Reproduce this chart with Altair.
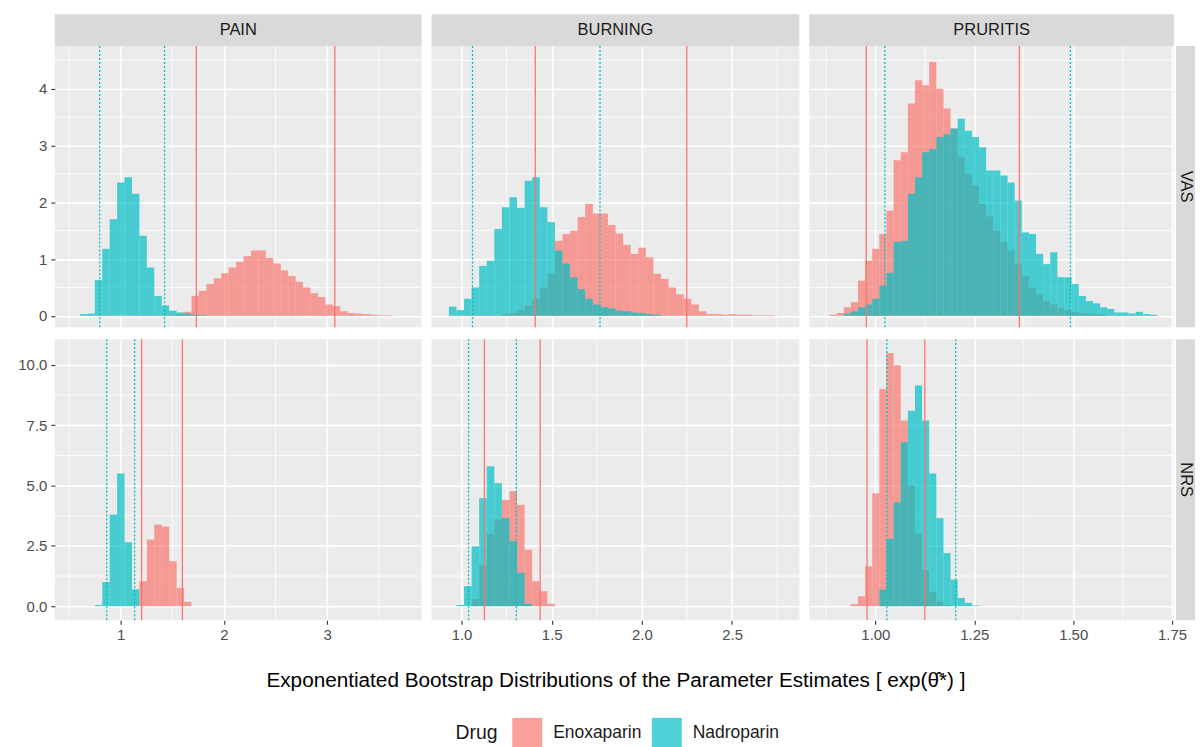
import altair as alt
import pandas as pd

# ---------------- categories ----------------
SYMPTOMS = ["PAIN", "BURNING", "PRURITIS"]
SCALES = ["VAS", "NRS"]
DRUGS = ["Enoxaparin", "Nadroparin"]
DRUG_COLORS = ["#F8766D", "#00BFC4"]

X_TITLE = "Exponentiated Bootstrap Distributions of the Parameter Estimates [ exp(\u03b8\u0302*) ]"

# histogram bin width per symptom (x scale is shared within a column)
BIN_WIDTH = {"PAIN": 0.072, "BURNING": 0.042, "PRURITIS": 0.018}

# ---------------- histogram densities (first bin edge, bar heights) ----------------
PAIN_VAS_ENOX_START = 1.47
PAIN_VAS_ENOX = [0.01, 0.03, 0.07, 0.35, 0.44, 0.56, 0.66, 0.75, 0.85, 0.95, 1.05, 1.15, 1.15,
                 1.02, 0.92, 0.80, 0.70, 0.60, 0.50, 0.40, 0.33, 0.20, 0.17, 0.08, 0.05, 0.04,
                 0.03, 0.02, 0.01, 0.01]
PAIN_VAS_NADRO_START = 0.606
PAIN_VAS_NADRO = [0.03, 0.04, 0.63, 1.18, 1.70, 2.35, 2.44, 2.15, 1.41, 0.85, 0.35, 0.18, 0.09,
                  0.06, 0.04, 0.02, 0.01]
PAIN_NRS_ENOX_START = 1.182
PAIN_NRS_ENOX = [1.03, 2.76, 3.38, 3.30, 1.86, 0.76, 0.18]
PAIN_NRS_NADRO_START = 0.75
PAIN_NRS_NADRO = [0.05, 1.00, 3.80, 5.50, 2.65, 0.70]

BURN_VAS_ENOX_START = 1.224
BURN_VAS_ENOX = [0.03, 0.05, 0.10, 0.18, 0.30, 0.50, 0.75, 1.32, 1.44, 1.50, 1.74, 1.97, 1.80,
                 1.80, 1.60, 1.45, 1.25, 1.09, 1.20, 1.03, 0.74, 0.65, 0.50, 0.38, 0.30, 0.20,
                 0.08, 0.03, 0.03, 0.02, 0.03, 0.02, 0.02, 0.01, 0.01, 0.01]
BURN_VAS_NADRO_START = 0.93
BURN_VAS_NADRO = [0.16, 0.10, 0.30, 0.50, 0.88, 0.97, 1.53, 1.91, 2.09, 1.90, 2.38, 2.44, 1.91,
                  1.65, 1.15, 0.92, 0.68, 0.47, 0.30, 0.20, 0.15, 0.13, 0.09, 0.08, 0.06, 0.05,
                  0.03, 0.02]
BURN_NRS_ENOX_START = 1.056
BURN_NRS_ENOX = [0.30, 1.70, 3.00, 3.60, 4.40, 4.76, 4.20, 2.34, 1.03, 0.62, 0.10]
BURN_NRS_NADRO_START = 0.972
BURN_NRS_NADRO = [0.05, 0.83, 2.48, 4.48, 5.80, 5.10, 3.66, 2.70, 1.38, 0.10]

PRUR_VAS_ENOX_START = 0.8841
PRUR_VAS_ENOX = [0.02, 0.05, 0.15, 0.24, 0.62, 0.97, 1.18, 1.44, 1.85, 2.74, 2.88, 3.74, 4.15,
                 4.06, 4.47, 4.00, 3.65, 3.30, 2.80, 2.50, 2.30, 1.97, 1.75, 1.50, 1.30, 1.15,
                 0.92, 0.70, 0.50, 0.38, 0.26, 0.20, 0.13, 0.10, 0.07, 0.05, 0.04, 0.03, 0.02]
PRUR_VAS_NADRO_START = 0.9201
PRUR_VAS_NADRO = [0.04, 0.08, 0.15, 0.20, 0.30, 0.53, 0.76, 1.30, 1.32, 2.15, 2.44, 2.88, 2.94,
                  3.15, 3.20, 3.30, 3.47, 3.26, 3.15, 2.97, 2.56, 2.56, 2.47, 2.35, 2.03, 1.47,
                  1.44, 1.09, 0.91, 1.12, 0.68, 0.68, 0.56, 0.35, 0.26, 0.22, 0.15, 0.12, 0.06,
                  0.06, 0.04, 0.07, 0.03, 0.02]
PRUR_NRS_ENOX_START = 0.9381
PRUR_NRS_ENOX = [0.08, 0.41, 1.65, 4.68, 9.00, 10.50, 9.99, 7.70, 5.00, 3.00, 1.50, 0.60, 0.20, 0.05]
PRUR_NRS_NADRO_START = 1.0101
PRUR_NRS_NADRO = [0.69, 2.80, 4.30, 6.80, 8.10, 9.15, 7.70, 5.50, 3.65, 2.20, 1.10, 0.34, 0.14, 0.03]

# ---------------- percentile interval limits (vertical lines) ----------------
CI_ENOX = {("PAIN", "VAS"): [1.733, 3.074], ("PAIN", "NRS"): [1.203, 1.598],
           ("BURNING", "VAS"): [1.409, 2.249], ("BURNING", "NRS"): [1.127, 1.436],
           ("PRURITIS", "VAS"): [0.977, 1.364], ("PRURITIS", "NRS"): [0.979, 1.125]}
CI_NADRO = {("PAIN", "VAS"): [0.797, 1.425], ("PAIN", "NRS"): [0.865, 1.135],
            ("BURNING", "VAS"): [1.061, 1.768], ("BURNING", "NRS"): [1.039, 1.304],
            ("PRURITIS", "VAS"): [1.024, 1.493], ("PRURITIS", "NRS"): [1.029, 1.203]}

# ---------------- axes: domains, breaks, labels ----------------
X_DOMAIN = {"PAIN": [0.363, 3.914], "BURNING": [0.834, 2.873], "PRURITIS": [0.833, 1.755]}
X_TICKS = {"PAIN": [1, 2, 3], "BURNING": [1.0, 1.5, 2.0, 2.5], "PRURITIS": [1.0, 1.25, 1.5, 1.75]}
X_MINOR = {"PAIN": [0.5, 1.5, 2.5, 3.5], "BURNING": [1.25, 1.75, 2.25, 2.75],
           "PRURITIS": [0.875, 1.125, 1.375, 1.625]}
X_FORMAT = {"PAIN": "d", "BURNING": ".1f", "PRURITIS": ".2f"}
Y_DOMAIN = {"VAS": [-0.2, 4.75], "NRS": [-0.58, 11.07]}
Y_TICKS = {"VAS": [0, 1, 2, 3, 4], "NRS": [0, 2.5, 5, 7.5, 10]}
Y_MINOR = {"VAS": [0.5, 1.5, 2.5, 3.5, 4.5], "NRS": [1.25, 3.75, 6.25, 8.75]}
Y_FORMAT = {"VAS": "d", "NRS": ".1f"}

PANEL_W = [368, 369, 366]
PANEL_H = 282
STRIP = 32
TICK_FONT = 15

HIST = {
    ("PAIN", "VAS", "Enoxaparin"): (PAIN_VAS_ENOX_START, PAIN_VAS_ENOX),
    ("PAIN", "VAS", "Nadroparin"): (PAIN_VAS_NADRO_START, PAIN_VAS_NADRO),
    ("PAIN", "NRS", "Enoxaparin"): (PAIN_NRS_ENOX_START, PAIN_NRS_ENOX),
    ("PAIN", "NRS", "Nadroparin"): (PAIN_NRS_NADRO_START, PAIN_NRS_NADRO),
    ("BURNING", "VAS", "Enoxaparin"): (BURN_VAS_ENOX_START, BURN_VAS_ENOX),
    ("BURNING", "VAS", "Nadroparin"): (BURN_VAS_NADRO_START, BURN_VAS_NADRO),
    ("BURNING", "NRS", "Enoxaparin"): (BURN_NRS_ENOX_START, BURN_NRS_ENOX),
    ("BURNING", "NRS", "Nadroparin"): (BURN_NRS_NADRO_START, BURN_NRS_NADRO),
    ("PRURITIS", "VAS", "Enoxaparin"): (PRUR_VAS_ENOX_START, PRUR_VAS_ENOX),
    ("PRURITIS", "VAS", "Nadroparin"): (PRUR_VAS_NADRO_START, PRUR_VAS_NADRO),
    ("PRURITIS", "NRS", "Enoxaparin"): (PRUR_NRS_ENOX_START, PRUR_NRS_ENOX),
    ("PRURITIS", "NRS", "Nadroparin"): (PRUR_NRS_NADRO_START, PRUR_NRS_NADRO),
}

color_scale = alt.Scale(domain=DRUGS, range=DRUG_COLORS)
LEGEND_COMMON = dict(
    title="Drug", orient="none", legendX=402, legendY=674, direction="horizontal",
    titleOrient="left", titleFontSize=19.5, titleFontWeight="normal",
    titlePadding=14, labelFontSize=17.5, labelOffset=11, columnPadding=10,
    symbolSize=900, labelLimit=300,
)
# filled keys of the histogram bars
legend_fill = alt.Legend(titleColor="#1A1A1A", labelColor="#1A1A1A", symbolType="square",
                         symbolStrokeWidth=0, symbolOpacity=0.7, zindex=0, **LEGEND_COMMON)
# vertical interval-line keys drawn over the filled keys (same layout, invisible texts)
legend_line = alt.Legend(titleColor="transparent", labelColor="transparent",
                         symbolType="M0,-1L0,1", symbolFillColor="transparent",
                         symbolStrokeWidth=1.3, symbolOpacity=1, zindex=2, **LEGEND_COMMON)


def hist_frame(sym, sc):
    rows = []
    for drug in DRUGS:  # Enoxaparin first, Nadroparin drawn on top
        start, heights = HIST[(sym, sc, drug)]
        w = BIN_WIDTH[sym]
        for i, h in enumerate(heights):
            rows.append({"drug": drug, "x0": start + i * w, "x1": start + (i + 1) * w, "h": h})
    return pd.DataFrame(rows)


def ci_frame(sym, sc):
    rows = []
    for drug, src in zip(DRUGS, [CI_ENOX, CI_NADRO]):
        for v in src[(sym, sc)]:
            rows.append({"ci_drug": drug, "v": v})
    return pd.DataFrame(rows)


def panel(sym, sc, c, r):
    w = PANEL_W[c]
    bottom = r == len(SCALES) - 1
    left = c == 0
    xscale = alt.Scale(domain=X_DOMAIN[sym], nice=False, zero=False)
    yscale = alt.Scale(domain=Y_DOMAIN[sc], nice=False, zero=False)
    xtitle = X_TITLE if (bottom and c == 1) else None
    xaxis_kw = dict(values=X_TICKS[sym], format=X_FORMAT[sym], grid=True,
                    gridColor="#FFFFFF", gridWidth=1.6, domain=False, ticks=bottom,
                    labels=bottom, tickSize=4, tickColor="#333333", tickWidth=1.1,
                    labelColor="#4D4D4D", labelFontSize=TICK_FONT, labelPadding=3,
                    labelFlush=False, labelOverlap=False, minExtent=0)
    if xtitle:
        xaxis = alt.Axis(title=xtitle, titleFontSize=20.8, titleFontWeight="normal",
                         titleColor="#000000", titlePadding=29, titleLimit=1100, **xaxis_kw)
    else:
        xaxis = alt.Axis(title=None, **xaxis_kw)
    if left:
        yaxis = alt.Axis(values=Y_TICKS[sc], format=Y_FORMAT[sc], title=None, grid=True,
                         gridColor="#FFFFFF", gridWidth=1.6, domain=False, ticks=True,
                         labels=True, tickSize=4, tickColor="#333333", tickWidth=1.1,
                         labelColor="#4D4D4D", labelFontSize=TICK_FONT, labelPadding=4,
                         labelFlush=False, labelOverlap=False, minExtent=42, maxExtent=42)
    else:
        yaxis = alt.Axis(values=Y_TICKS[sc], title=None, grid=True, gridColor="#FFFFFF",
                         gridWidth=1.6, domain=False, ticks=False, labels=False,
                         minExtent=0, maxExtent=0)

    def X(f):
        return alt.X(f, type="quantitative", scale=xscale, axis=xaxis)

    def Y(f):
        return alt.Y(f, type="quantitative", scale=yscale, axis=yaxis)

    minor_x = alt.Chart(pd.DataFrame({"v": X_MINOR[sym]})).mark_rule(
        color="#FFFFFF", strokeWidth=0.8).encode(x=X("v"))
    minor_y = alt.Chart(pd.DataFrame({"v": Y_MINOR[sc]})).mark_rule(
        color="#FFFFFF", strokeWidth=0.8).encode(y=Y("v"))
    bars = alt.Chart(hist_frame(sym, sc)).mark_rect(opacity=0.7).encode(
        x=X("x0"), x2="x1", y=Y("h"), y2=alt.datum(0),
        color=alt.Color("drug:N", scale=color_scale, legend=legend_fill),
    )
    lines = alt.Chart(ci_frame(sym, sc)).mark_rule(strokeWidth=1.3).encode(
        x=X("v"),
        stroke=alt.Stroke("ci_drug:N", scale=color_scale, legend=legend_line),
        strokeDash=alt.StrokeDash("ci_drug:N",
                                  scale=alt.Scale(domain=DRUGS, range=[[1, 0], [2, 2]]),
                                  legend=legend_line),
    )
    layers = [minor_x, minor_y, bars, lines]
    if r == 0:
        lab = pd.DataFrame({"label": [sym]})
        layers.append(alt.Chart(lab).mark_rect(color="#D9D9D9").encode(
            x=alt.value(0), x2=alt.value(w), y=alt.value(-STRIP), y2=alt.value(0)))
        layers.append(alt.Chart(lab).mark_text(fontSize=16.5, color="#1A1A1A", baseline="middle",
                                               align="center").encode(
            x=alt.value(w / 2), y=alt.value(-STRIP / 2), text="label:N"))
    if c == len(SYMPTOMS) - 1:
        lab = pd.DataFrame({"label": [sc]})
        layers.append(alt.Chart(lab).mark_rect(color="#D9D9D9").encode(
            x=alt.value(w + 2), x2=alt.value(w + 21), y=alt.value(0), y2=alt.value(PANEL_H)))
        layers.append(alt.Chart(lab).mark_text(fontSize=16.5, color="#1A1A1A", baseline="middle",
                                               align="center", angle=90).encode(
            x=alt.value(w + 12), y=alt.value(PANEL_H / 2), text="label:N"))
    return alt.layer(*layers).properties(width=w, height=PANEL_H)


rows = []
for r, sc in enumerate(SCALES):
    rows.append(alt.hconcat(*[panel(sym, sc, c, r) for c, sym in enumerate(SYMPTOMS)],
                            spacing=10, bounds="flush"))

chart = alt.vconcat(*rows, spacing=10).properties(
    padding={"left": 5, "top": 5, "right": 0, "bottom": 0},
).configure(font="Liberation Sans").configure_view(fill="#EBEBEB", strokeWidth=0)

chart.save("out.html", embed_options={"renderer": "svg", "actions": False})
